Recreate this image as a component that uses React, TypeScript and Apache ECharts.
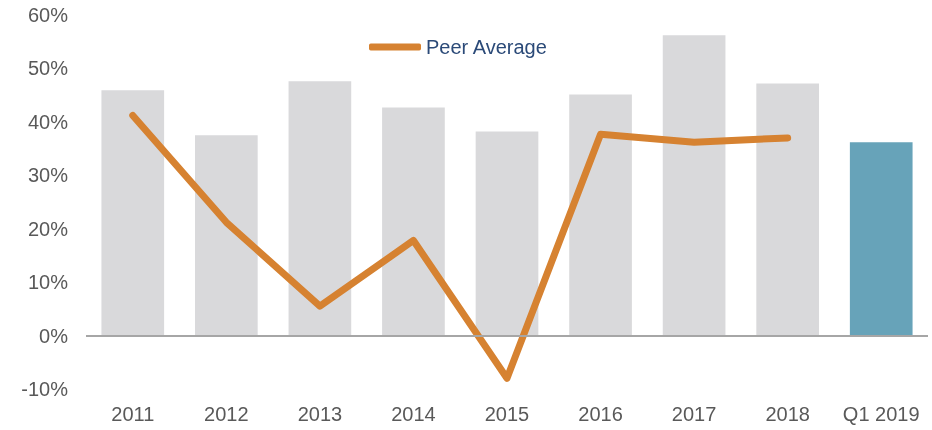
import React, { useEffect, useRef } from "react";
import * as echarts from "echarts";

const categories = ["2011", "2012", "2013", "2014", "2015", "2016", "2017", "2018", "Q1 2019"];
const barValues = [45.9, 37.5, 47.6, 42.7, 38.2, 45.1, 56.2, 47.2, 36.2];
const peerAverage = [41.2, 21.2, 5.5, 17.8, -8.0, 37.7, 36.2, 37.0, null];
const yTicks = [-10, 0, 10, 20, 30, 40, 50, 60];

const GREY = "#d9d9db";
const HIGHLIGHT = "#67a3b9";
const ORANGE = "#d68231";
const FONT = "Liberation Sans, Arial, sans-serif";

export default function App() {
  const ref = useRef<HTMLDivElement>(null);
  useEffect(() => {
    if (!ref.current) return;
    const chart = echarts.init(ref.current, undefined, { renderer: "svg" });
    chart.setOption({
      animation: false,
      textStyle: { fontFamily: FONT },
      grid: { left: 86, right: 4, top: 15, bottom: 41 },
      legend: {
        data: ["Peer Average"],
        left: 364,
        top: 32,
        icon: "roundRect",
        itemWidth: 52,
        itemHeight: 7,
        textStyle: { color: "#2b4a78", fontSize: 20, fontFamily: FONT },
      },
      xAxis: {
        type: "category",
        data: categories,
        axisLine: { show: false, onZero: false },
        axisTick: { show: false },
        axisLabel: { color: "#595959", fontSize: 20, margin: 15, interval: 0, fontFamily: FONT },
      },
      yAxis: {
        type: "value",
        min: yTicks[0],
        max: yTicks[yTicks.length - 1],
        interval: 10,
        splitLine: { show: false },
        axisLine: { show: false },
        axisTick: { show: false },
        axisLabel: { color: "#595959", fontSize: 20, margin: 18, formatter: "{value}%", fontFamily: FONT },
      },
      series: [
        {
          name: "Company",
          type: "bar",
          barWidth: "67%",
          data: barValues.map((v, i) => ({
            value: v,
            itemStyle: { color: i === barValues.length - 1 ? HIGHLIGHT : GREY },
          })),
          markLine: {
            silent: true,
            symbol: "none",
            label: { show: false },
            lineStyle: { color: "#a6a6a6", width: 2, type: "solid" },
            data: [{ yAxis: 0 }],
          },
        },
        {
          name: "Peer Average",
          type: "line",
          data: peerAverage,
          showSymbol: false,
          symbol: "none",
          itemStyle: { color: ORANGE },
          lineStyle: { color: ORANGE, width: 7, cap: "round", join: "round" },
        },
      ],
    });
    return () => chart.dispose();
  }, []);
  return <div ref={ref} style={{ position: "fixed", left: 0, top: 0, width: 932, height: 430 }} />;
}
